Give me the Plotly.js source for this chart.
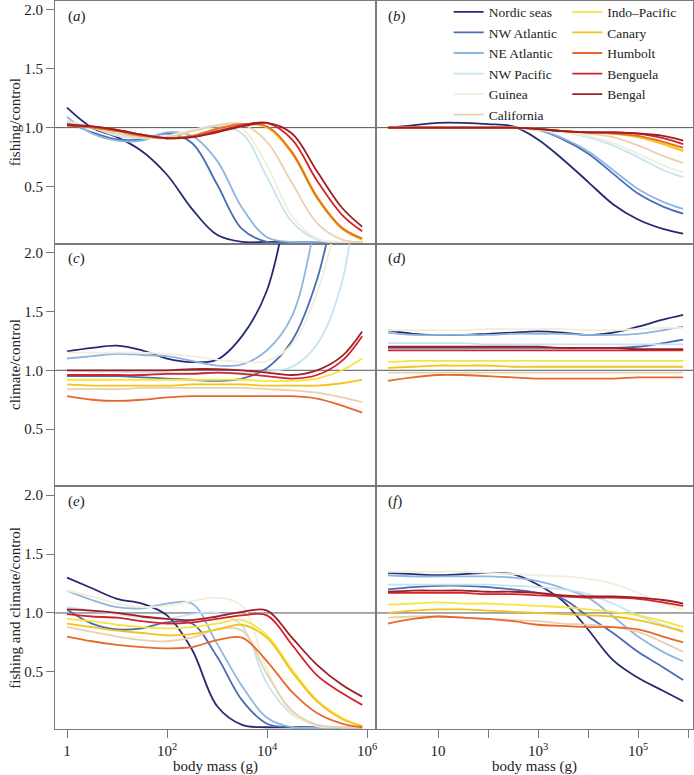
<!DOCTYPE html>
<html>
<head>
<meta charset="utf-8">
<script src="https://cdn.plot.ly/plotly-3.0.1.min.js"></script>
<style>html,body{margin:0;padding:0;background:#fff;}#chart{width:694px;height:775px;}</style>
</head>
<body>
<div id="chart"></div>
<script>
// body mass (g) sample points
const mass = [1, 3.16, 10, 31.6, 100, 316, 1000, 3160, 10000, 31600, 100000, 316000, 800000];

const regions = ['Nordic seas', 'NW Atlantic', 'NE Atlantic', 'NW Pacific', 'Guinea', 'California',
                 'Indo\u2013Pacific', 'Canary', 'Humbolt', 'Benguela', 'Bengal'];
const colors = ['#252a72', '#4a6cb3', '#8db7df', '#c6e4ef', '#f1eedb', '#e8d1af',
                '#f6e53a', '#f5c21b', '#e8692d', '#d6202a', '#9d1f25'];

// (a) fishing/control, left column
const panelA = [
  [1.17, 1.00, 0.92, 0.80, 0.60, 0.31, 0.09, 0.03, 0.03, 0.03, 0.03, 0.03, 0.03],
  [1.05, 0.96, 0.90, 0.90, 0.95, 0.87, 0.52, 0.14, 0.03, 0.03, 0.03, 0.03, 0.03],
  [1.09, 0.95, 0.89, 0.89, 0.96, 0.93, 0.72, 0.32, 0.07, 0.03, 0.03, 0.03, 0.03],
  [1.06, 1.00, 0.93, 0.91, 0.92, 0.97, 1.01, 0.95, 0.58, 0.20, 0.05, 0.03, 0.03],
  [1.05, 1.00, 0.95, 0.92, 0.93, 0.98, 1.02, 0.99, 0.68, 0.25, 0.06, 0.03, 0.03],
  [1.04, 1.00, 0.95, 0.92, 0.92, 0.97, 1.02, 1.03, 0.88, 0.53, 0.19, 0.05, 0.03],
  [1.03, 1.00, 0.97, 0.93, 0.91, 0.93, 0.99, 1.03, 1.01, 0.80, 0.42, 0.15, 0.05],
  [1.03, 1.00, 0.97, 0.93, 0.91, 0.93, 0.99, 1.03, 1.00, 0.78, 0.40, 0.14, 0.05],
  [1.02, 1.00, 0.97, 0.93, 0.91, 0.93, 0.99, 1.03, 1.01, 0.79, 0.41, 0.15, 0.06],
  [1.03, 1.01, 0.98, 0.94, 0.91, 0.92, 0.97, 1.02, 1.04, 0.90, 0.55, 0.26, 0.12],
  [1.02, 1.01, 0.98, 0.94, 0.91, 0.92, 0.96, 1.01, 1.04, 0.95, 0.63, 0.32, 0.16]
];
// (b) fishing/control, right column
const panelB = [
  [1.00, 1.02, 1.04, 1.04, 1.03, 1.01, 0.90, 0.73, 0.54, 0.35, 0.22, 0.14, 0.10],
  [1.00, 1.00, 1.00, 1.00, 1.00, 1.00, 0.98, 0.90, 0.78, 0.61, 0.44, 0.33, 0.27],
  [1.00, 1.00, 1.00, 1.00, 1.00, 1.00, 0.98, 0.91, 0.80, 0.64, 0.48, 0.37, 0.31],
  [1.00, 1.00, 1.00, 1.00, 1.00, 1.00, 0.98, 0.96, 0.92, 0.85, 0.75, 0.64, 0.58],
  [1.00, 1.00, 1.00, 1.00, 1.00, 1.00, 0.98, 0.96, 0.93, 0.87, 0.78, 0.68, 0.62],
  [1.00, 1.00, 1.00, 1.00, 1.00, 1.00, 0.98, 0.97, 0.95, 0.92, 0.85, 0.76, 0.70],
  [1.00, 1.00, 1.00, 1.00, 1.00, 1.00, 0.99, 0.97, 0.96, 0.95, 0.92, 0.87, 0.81],
  [1.00, 1.00, 1.00, 1.00, 1.00, 1.00, 0.99, 0.97, 0.96, 0.95, 0.92, 0.86, 0.80],
  [1.00, 1.00, 1.00, 1.00, 1.00, 1.00, 0.99, 0.97, 0.96, 0.95, 0.93, 0.88, 0.83],
  [1.00, 1.00, 1.00, 1.00, 1.00, 1.00, 0.99, 0.97, 0.96, 0.96, 0.95, 0.91, 0.86],
  [1.00, 1.00, 1.00, 1.00, 1.00, 1.00, 0.99, 0.97, 0.96, 0.96, 0.95, 0.93, 0.89]
];
// (c) climate/control, left column
const panelC = [
  [1.16, 1.19, 1.21, 1.17, 1.10, 1.07, 1.09, 1.29, 1.68, 2.60, 3.60, 4.60, 5.40],
  [0.95, 0.95, 0.95, 0.94, 0.93, 0.92, 0.91, 0.93, 1.02, 1.25, 1.77, 2.70, 3.50],
  [1.10, 1.12, 1.14, 1.13, 1.12, 1.08, 1.04, 1.05, 1.17, 1.46, 2.30, 3.20, 4.00],
  [1.00, 0.99, 0.99, 0.98, 0.98, 0.98, 0.98, 0.98, 0.99, 1.03, 1.22, 1.75, 3.00],
  [1.15, 1.15, 1.15, 1.15, 1.14, 1.12, 1.09, 1.07, 1.08, 1.22, 1.66, 2.45, 3.30],
  [0.84, 0.84, 0.84, 0.85, 0.85, 0.85, 0.85, 0.85, 0.84, 0.83, 0.81, 0.77, 0.73],
  [0.92, 0.92, 0.92, 0.92, 0.92, 0.92, 0.92, 0.92, 0.91, 0.91, 0.93, 1.00, 1.10],
  [0.88, 0.87, 0.87, 0.87, 0.87, 0.88, 0.88, 0.88, 0.87, 0.87, 0.87, 0.89, 0.92],
  [0.78, 0.75, 0.74, 0.75, 0.77, 0.78, 0.78, 0.78, 0.78, 0.78, 0.76, 0.70, 0.64],
  [0.96, 0.96, 0.96, 0.96, 0.97, 0.97, 0.98, 0.97, 0.95, 0.93, 0.96, 1.08, 1.29],
  [1.00, 1.00, 1.00, 1.00, 1.00, 1.01, 1.01, 1.00, 0.98, 0.96, 1.00, 1.12, 1.33]
];
// (d) climate/control, right column
const panelD = [
  [1.34, 1.31, 1.30, 1.30, 1.31, 1.32, 1.33, 1.32, 1.30, 1.32, 1.37, 1.43, 1.47],
  [1.19, 1.19, 1.19, 1.19, 1.19, 1.19, 1.19, 1.19, 1.19, 1.19, 1.20, 1.23, 1.26],
  [1.32, 1.30, 1.30, 1.30, 1.30, 1.31, 1.31, 1.31, 1.30, 1.30, 1.31, 1.34, 1.37],
  [1.23, 1.23, 1.23, 1.23, 1.22, 1.22, 1.22, 1.22, 1.22, 1.22, 1.22, 1.22, 1.22],
  [1.34, 1.34, 1.34, 1.34, 1.35, 1.35, 1.35, 1.35, 1.34, 1.34, 1.35, 1.36, 1.36],
  [0.98, 0.98, 0.98, 0.98, 0.98, 0.98, 0.98, 0.98, 0.98, 0.98, 0.98, 0.98, 0.98],
  [1.07, 1.08, 1.08, 1.08, 1.08, 1.08, 1.08, 1.08, 1.08, 1.08, 1.08, 1.08, 1.08],
  [1.02, 1.03, 1.04, 1.04, 1.04, 1.03, 1.03, 1.03, 1.03, 1.03, 1.03, 1.03, 1.03],
  [0.91, 0.94, 0.96, 0.96, 0.95, 0.94, 0.93, 0.93, 0.93, 0.93, 0.94, 0.94, 0.94],
  [1.17, 1.17, 1.17, 1.17, 1.17, 1.17, 1.17, 1.17, 1.17, 1.17, 1.17, 1.17, 1.17],
  [1.20, 1.20, 1.20, 1.20, 1.20, 1.20, 1.20, 1.19, 1.19, 1.19, 1.18, 1.18, 1.18]
];
// (e) fishing and climate/control, left column
const panelE = [
  [1.30, 1.21, 1.12, 1.08, 0.98, 0.69, 0.21, 0.05, 0.03, 0.03, 0.03, 0.03, 0.03],
  [1.03, 0.91, 0.86, 0.87, 0.92, 0.91, 0.63, 0.26, 0.06, 0.03, 0.03, 0.03, 0.03],
  [1.19, 1.11, 1.05, 1.04, 1.08, 1.08, 0.74, 0.38, 0.11, 0.03, 0.03, 0.03, 0.03],
  [1.05, 1.02, 0.99, 0.96, 0.95, 0.99, 1.00, 0.89, 0.40, 0.14, 0.05, 0.03, 0.03],
  [1.19, 1.14, 1.08, 1.05, 1.06, 1.10, 1.13, 1.06, 0.52, 0.15, 0.04, 0.03, 0.03],
  [0.88, 0.84, 0.80, 0.77, 0.76, 0.79, 0.86, 0.85, 0.48, 0.17, 0.05, 0.03, 0.03],
  [0.95, 0.93, 0.90, 0.88, 0.87, 0.88, 0.91, 0.94, 0.81, 0.52, 0.26, 0.11, 0.04],
  [0.91, 0.88, 0.85, 0.83, 0.81, 0.82, 0.86, 0.90, 0.79, 0.50, 0.25, 0.10, 0.04],
  [0.80, 0.76, 0.73, 0.71, 0.70, 0.71, 0.77, 0.79, 0.59, 0.33, 0.15, 0.06, 0.03],
  [0.99, 0.97, 0.96, 0.93, 0.91, 0.92, 0.95, 0.98, 0.98, 0.73, 0.47, 0.32, 0.22],
  [1.03, 1.02, 1.00, 0.97, 0.95, 0.94, 0.97, 1.01, 1.02, 0.79, 0.56, 0.39, 0.29]
];
// (f) fishing and climate/control, right column
const panelF = [
  [1.34, 1.33, 1.32, 1.33, 1.34, 1.33, 1.24, 1.10, 0.86, 0.60, 0.45, 0.34, 0.25],
  [1.20, 1.22, 1.23, 1.23, 1.22, 1.20, 1.17, 1.12, 0.97, 0.83, 0.67, 0.54, 0.43],
  [1.32, 1.31, 1.31, 1.31, 1.31, 1.30, 1.27, 1.21, 1.13, 0.97, 0.80, 0.67, 0.59],
  [1.24, 1.24, 1.24, 1.24, 1.24, 1.23, 1.22, 1.20, 1.16, 1.08, 0.98, 0.90, 0.85],
  [1.35, 1.35, 1.35, 1.35, 1.34, 1.33, 1.32, 1.31, 1.29, 1.25, 1.17, 1.08, 1.03],
  [0.96, 0.97, 0.97, 0.96, 0.95, 0.94, 0.93, 0.91, 0.90, 0.88, 0.84, 0.75, 0.67],
  [1.07, 1.08, 1.09, 1.08, 1.08, 1.07, 1.06, 1.05, 1.03, 1.01, 0.98, 0.93, 0.88],
  [1.00, 1.02, 1.03, 1.03, 1.02, 1.01, 1.00, 0.99, 0.98, 0.97, 0.94, 0.89, 0.84],
  [0.91, 0.95, 0.97, 0.96, 0.95, 0.93, 0.90, 0.89, 0.88, 0.88, 0.86, 0.80, 0.75],
  [1.17, 1.17, 1.17, 1.17, 1.16, 1.16, 1.15, 1.14, 1.13, 1.13, 1.12, 1.09, 1.06],
  [1.18, 1.19, 1.19, 1.19, 1.18, 1.18, 1.17, 1.15, 1.14, 1.14, 1.13, 1.11, 1.08]
];

const panels = [panelA, panelB, panelC, panelD, panelE, panelF];
const panelLabels = ['a', 'b', 'c', 'd', 'e', 'f'];
const rowTitles = ['fishing/control', 'climate/control', 'fishing and climate/control'];
const yTickVals = [0.5, 1, 1.5, 2];
const yTickText = ['0.5', '1.0', '1.5', '2.0'];
const xLeftTickVals = [1, 100, 10000, 1000000];
const xLeftTickText = ['1', '10<sup>2</sup>', '10<sup>4</sup>', '10<sup>6</sup>'];
const xRightTickVals = [10, 1000, 100000];
const xRightTickText = ['10', '10<sup>3</sup>', '10<sup>5</sup>'];
const xRightMinorVals = [100, 10000, 1000000];

const FONT = 'Liberation Serif, Times New Roman, serif';
const LINE = '#7a7a7a';
const splitX = 321 / 638;

const traces = [];
panels.forEach((pd, p) => {
  const ax = p === 0 ? '' : String(p + 1);
  pd.forEach((vals, i) => {
    traces.push({
      x: mass, y: vals,
      xaxis: 'x' + ax, yaxis: 'y' + ax,
      type: 'scatter', mode: 'lines',
      name: regions[i],
      line: {color: colors[i], width: 1.8, shape: 'spline', smoothing: 1},
      showlegend: p === 1,
      legend: i < 6 ? 'legend' : 'legend2',
      hoverinfo: 'skip'
    });
  });
});

const legendFont = {family: FONT, size: 13.5, color: '#222'};
const layout = {
  width: 694, height: 775,
  margin: {l: 55, r: 1, t: 1, b: 46, autoexpand: false},
  paper_bgcolor: '#fff', plot_bgcolor: '#fff',
  font: {family: FONT, size: 15, color: '#222'},
  showlegend: true,
  legend: {x: 0.617, y: 1.006, xanchor: 'left', yanchor: 'top', bgcolor: 'rgba(0,0,0,0)',
           font: legendFont, tracegroupgap: 0, itemwidth: 30},
  legend2: {x: 0.803, y: 1.006, xanchor: 'left', yanchor: 'top', bgcolor: 'rgba(0,0,0,0)',
            font: legendFont, tracegroupgap: 0, itemwidth: 30},
  shapes: [], annotations: []
};

for (let p = 0; p < 6; p++) {
  const ax = p === 0 ? '' : String(p + 1);
  const left = p % 2 === 0;
  const row = Math.floor(p / 2);
  const bottom = row === 2;
  const yd = [[2/3, 1], [1/3, 2/3], [0, 1/3]][row];
  const xa = {
    type: 'log', domain: left ? [0, splitX] : [splitX, 1],
    range: left ? [-0.24, 6.18] : [-0.24, 6.10],
    anchor: 'y' + ax,
    showline: true, mirror: true, linecolor: LINE, linewidth: 1,
    showgrid: false, zeroline: false,
    ticks: bottom ? 'outside' : '', ticklen: 8, tickcolor: LINE,
    showticklabels: bottom,
    tickmode: 'array',
    tickvals: left ? xLeftTickVals : xRightTickVals,
    ticktext: left ? xLeftTickText : xRightTickText,
    tickfont: {family: FONT, size: 15, color: '#222'}
  };
  if (bottom && !left) {
    xa.minor = {tickmode: 'array', tickvals: xRightMinorVals, ticks: 'outside', ticklen: 8, tickcolor: LINE, showgrid: false};
  }
  if (bottom) xa.title = {text: 'body mass (g)', font: {family: FONT, size: 15, color: '#222'}, standoff: 6};
  const ya = {
    domain: yd, range: [0.015, 2.075], anchor: 'x' + ax,
    showline: true, mirror: true, linecolor: LINE, linewidth: 1,
    showgrid: false, zeroline: false,
    ticks: left ? 'outside' : '', ticklen: 8, tickcolor: LINE,
    showticklabels: left,
    tickmode: 'array', tickvals: yTickVals, ticktext: yTickText,
    tickfont: {family: FONT, size: 15, color: '#222'}
  };
  layout['xaxis' + ax] = xa;
  layout['yaxis' + ax] = ya;

  layout.shapes.push({
    type: 'line', xref: 'x' + ax + ' domain', yref: 'y' + ax,
    x0: 0, x1: 1, y0: 1, y1: 1,
    line: {color: '#555', width: 1}, layer: 'below'
  });
  layout.annotations.push({
    xref: 'x' + ax + ' domain', yref: 'y' + ax + ' domain',
    x: left ? 0.035 : 0.03, y: 0.937, xanchor: 'left', yanchor: 'middle',
    text: '(<i>' + panelLabels[p] + '</i>)', showarrow: false,
    font: {family: FONT, size: 15, color: '#222'}
  });
  if (left) {
    layout.annotations.push({
      xref: 'paper', yref: 'y' + ax + ' domain',
      x: (15 - 55) / 638, y: 0.5, xanchor: 'center', yanchor: 'middle',
      textangle: -90, text: rowTitles[row], showarrow: false,
      font: {family: FONT, size: 15, color: '#222'}
    });
  }
}

Plotly.newPlot('chart', traces, layout, {staticPlot: true, displayModeBar: false});
</script>
</body>
</html>
